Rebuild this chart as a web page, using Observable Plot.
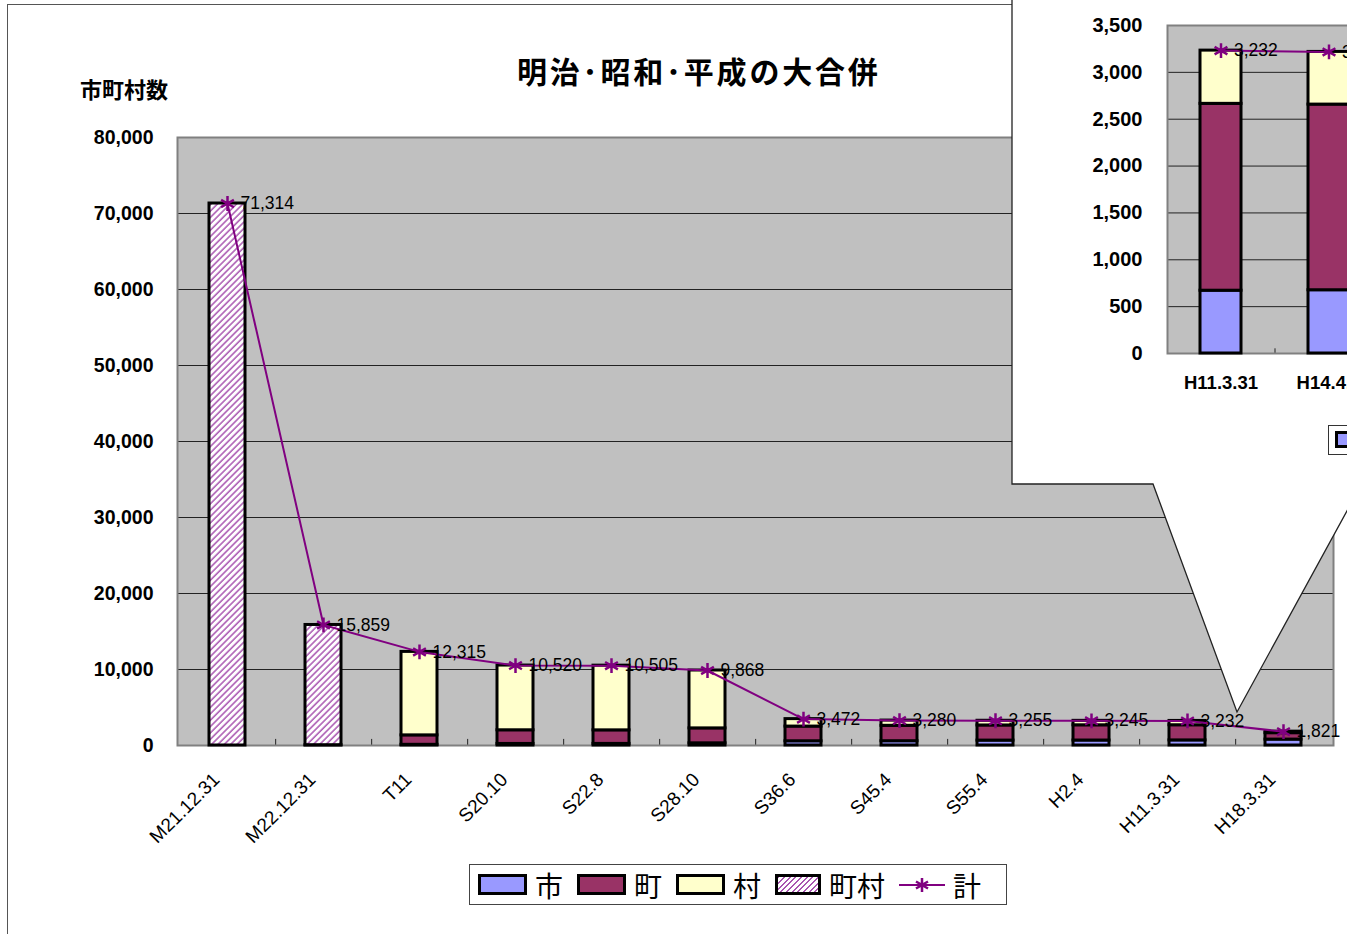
<!DOCTYPE html>
<html>
<head>
<meta charset="utf-8">
<script src="https://cdn.jsdelivr.net/npm/d3@7"></script>
<script src="https://cdn.jsdelivr.net/npm/@observablehq/plot@0.6"></script>
<style>
  html, body { margin: 0; padding: 0; background: #fff; }
  body { width: 1347px; height: 934px; position: relative; overflow: hidden; font-family: "Liberation Sans", Arial, sans-serif; }
  .abs { position: absolute; }
  .jp { font-family: "Noto Sans CJK JP", "Noto Sans CJK SC", sans-serif; color: #000; }
  .sw { width: 49px; height: 21px; box-sizing: border-box; border: 3px solid #000; flex: none; }
  .legend { display: flex; align-items: center; }
  .legend .lab { font-size: 28px; line-height: 32px; margin-left: 8px; margin-right: 14px; }
  svg { max-width: none !important; }
</style>
</head>
<body>
<svg width="0" height="0" style="position:absolute">
  <defs>
    <pattern id="hatch" patternUnits="userSpaceOnUse" width="4.5" height="4.5" patternTransform="rotate(45)">
      <rect width="4.5" height="4.5" fill="#ffffff"></rect>
      <line x1="1" y1="0" x2="1" y2="4.5" stroke="#a855b0" stroke-width="1.5"></line>
    </pattern>
  </defs>
</svg>
<div id="frame" class="abs" style="left:7px;top:4px;width:1400px;height:1000px;border-top:1.5px solid #555;border-left:1.5px solid #555;"></div>
<div id="main" class="abs" style="left:0;top:0;width:1347px;"></div>
<svg id="callout" class="abs" width="1347" height="934" style="left:0;top:0;">
  <polygon points="1012,-5 1012,484 1153,484 1237,712 1400,414 1400,-5" fill="#fff" stroke="#222" stroke-width="1.3"></polygon>
</svg>
<div id="inset" class="abs" style="left:1012px;top:0;width:420px;"></div>
<div class="abs" style="left:1328px;top:425px;width:200px;height:28px;border:1.5px solid #333;background:#fff;">
  <div class="sw" style="position:absolute;left:6px;top:5px;width:40px;height:17px;background:#9999FF;"></div>
</div>
<div class="abs jp" style="left:517px;top:53px;font-size:30px;line-height:34px;letter-spacing:2.8px;font-weight:bold;white-space:nowrap;">明治･昭和･平成の大合併</div>
<div class="abs jp" style="left:80px;top:76px;font-size:22px;line-height:24px;font-weight:bold;white-space:nowrap;">市町村数</div>
<div id="legend" class="abs legend jp" style="left:469px;top:864px;width:538px;height:41px;box-sizing:border-box;border:1.5px solid #444;padding-left:8px;background:#fff;"></div>

<script>
// ---------- data ----------
const categories = ["M21.12.31","M22.12.31","T11","S20.10","S22.8","S28.10","S36.6","S45.4","S55.4","H2.4","H11.3.31","H18.3.31"];
const cities        = [0, 39, 91, 205, 210, 286, 556, 564, 646, 655, 670, 777];
const towns         = [0, 0, 1242, 1797, 1784, 1966, 1935, 2027, 1991, 2003, 1994, 846];
const villages      = [0, 0, 10982, 8518, 8511, 7616, 981, 689, 618, 587, 568, 198];
const townsVillages = [71314, 15820, 0, 0, 0, 0, 0, 0, 0, 0, 0, 0];
const totals        = [71314, 15859, 12315, 10520, 10505, 9868, 3472, 3280, 3255, 3245, 3232, 1821];
const yTicks = [0, 10000, 20000, 30000, 40000, 50000, 60000, 70000, 80000];

const insetCategories = ["H11.3.31", "H14.4.1"];
const insetCities   = [670, 675];
const insetTowns    = [1994, 1981];
const insetVillages = [568, 562];
const insetTotals   = [3232, 3218];
const insetTicks = [0, 500, 1000, 1500, 2000, 2500, 3000, 3500];

const seriesNames  = ["市", "町", "村", "町村", "計"];
const seriesColors = ["#9999FF", "#993366", "#FFFFCC", "url(#hatch)", "#800080"];

// ---------- helpers ----------
function stackRows(cats, arrays) {
  const rows = [];
  cats.forEach((c, i) => {
    arrays.forEach((arr, s) => {
      if (arr[i] > 0) rows.push({cat: c, series: seriesNames[s], color: seriesColors[s], value: arr[i]});
    });
  });
  return rows;
}
const fmt = d3.format(",");
const numFont = "'Liberation Sans', Arial, sans-serif";

// ---------- main chart ----------
const mainRows = stackRows(categories, [cities, towns, villages, townsVillages]);
const mainTotals = categories.map((c, i) => ({cat: c, total: totals[i]}));
const W = 1347, H = 934, mL = 177, mR = 14, mT = 137, mB = 189;
const mainStep = (W - mL - mR) / categories.length;

const main = Plot.plot({
  width: W, height: H,
  marginLeft: mL, marginRight: mR, marginTop: mT, marginBottom: mB,
  x: {domain: categories, paddingInner: 0.62, paddingOuter: 0.31, axis: null},
  y: {domain: [0, 80000], axis: null},
  color: {type: "identity"},
  style: {background: "transparent", fontFamily: numFont, overflow: "visible", maxWidth: "none"},
  marks: [
    Plot.frame({fill: "#c0c0c0"}),
    Plot.ruleY(yTicks.slice(1, -1), {stroke: "#222", strokeWidth: 1}),
    Plot.ruleX(categories.slice(0, -1), {x: d => d, dx: mainStep / 2, y1: 0, y2: 800, stroke: "#222", strokeWidth: 1}),
    Plot.frame({stroke: "#808080", strokeWidth: 2}),
    Plot.barY(mainRows, {x: "cat", y: "value", fill: "color", stroke: "#000", strokeWidth: 3}),
    Plot.line(mainTotals, {x: "cat", y: "total", stroke: seriesColors[4], strokeWidth: 2}),
    Plot.dot(mainTotals, {x: "cat", y: "total", symbol: "asterisk", r: 7, stroke: seriesColors[4], strokeWidth: 2.5}),
    Plot.text(mainTotals, {x: "cat", y: "total", text: d => fmt(d.total), dx: 13, textAnchor: "start", lineAnchor: "middle", fontSize: 17.5, fill: "#000"}),
    Plot.axisY({ticks: yTicks, tickFormat: fmt, tickSize: 0, tickPadding: 24, fontSize: 19.5, fontWeight: "bold", fill: "#000"}),
    Plot.text(categories, {x: d => d, frameAnchor: "bottom", dx: -11, dy: 31, rotate: -45, textAnchor: "end", lineAnchor: "middle", fontSize: 19, fill: "#000"})
  ]
});
document.getElementById("main").appendChild(main);

// ---------- inset chart ----------
const insetRows = stackRows(insetCategories, [insetCities, insetTowns, insetVillages]);
const insetTot = insetCategories.map((c, i) => ({cat: c, total: insetTotals[i]}));
const iW = 420, iH = 484, iL = 155, iR = 49, iT = 25, iB = 131;
const insetStep = (iW - iL - iR) / insetCategories.length;

const inset = Plot.plot({
  width: iW, height: iH,
  marginLeft: iL, marginRight: iR, marginTop: iT, marginBottom: iB,
  x: {domain: insetCategories, paddingInner: 0.62, paddingOuter: 0.31, axis: null},
  y: {domain: [0, 3500], axis: null},
  color: {type: "identity"},
  style: {background: "transparent", fontFamily: numFont, overflow: "visible", maxWidth: "none"},
  marks: [
    Plot.frame({fill: "#c0c0c0"}),
    Plot.ruleY(insetTicks.slice(1, -1), {stroke: "#222", strokeWidth: 1}),
    Plot.ruleX(insetCategories.slice(0, 1), {x: d => d, dx: insetStep / 2, y1: 0, y2: 50, stroke: "#222", strokeWidth: 1}),
    Plot.frame({stroke: "#808080", strokeWidth: 2}),
    Plot.barY(insetRows, {x: "cat", y: "value", fill: "color", stroke: "#000", strokeWidth: 3}),
    Plot.line(insetTot, {x: "cat", y: "total", stroke: seriesColors[4], strokeWidth: 2}),
    Plot.dot(insetTot, {x: "cat", y: "total", symbol: "asterisk", r: 7, stroke: seriesColors[4], strokeWidth: 2.5}),
    Plot.text(insetTot, {x: "cat", y: "total", text: d => fmt(d.total), dx: 13, textAnchor: "start", lineAnchor: "middle", fontSize: 17.5, fill: "#000"}),
    Plot.axisY({ticks: insetTicks, tickFormat: fmt, tickSize: 0, tickPadding: 25, fontSize: 20, fontWeight: "bold", fill: "#000"}),
    Plot.text(insetCategories, {x: d => d, frameAnchor: "bottom", dy: 30, textAnchor: "middle", lineAnchor: "middle", fontSize: 18.5, fontWeight: "bold", fill: "#000"})
  ]
});
document.getElementById("inset").appendChild(inset);

// ---------- legend ----------
const legend = document.getElementById("legend");
seriesNames.forEach((name, i) => {
  let sw;
  if (i < 4) {
    sw = document.createElement("div");
    sw.className = "sw";
    if (seriesColors[i].startsWith("url")) {
      sw.style.background = "repeating-linear-gradient(135deg, #a855b0 0 1.4px, #ffffff 1.4px 4px)";
      sw.style.width = "46px";
    } else {
      sw.style.background = seriesColors[i];
    }
  } else {
    sw = document.createElementNS("http://www.w3.org/2000/svg", "svg");
    sw.setAttribute("width", "46");
    sw.setAttribute("height", "20");
    sw.style.flex = "none";
    sw.innerHTML = `<line x1="0" y1="10" x2="46" y2="10" stroke="${seriesColors[i]}" stroke-width="2"/>` +
      `<path transform="translate(23,10)" d="M0,-7V7M-6,-3.5L6,3.5M-6,3.5L6,-3.5" stroke="${seriesColors[i]}" stroke-width="2.5" fill="none"/>`;
  }
  const lab = document.createElement("span");
  lab.className = "lab";
  lab.textContent = name;
  legend.appendChild(sw);
  legend.appendChild(lab);
});
</script>
</body>
</html>
